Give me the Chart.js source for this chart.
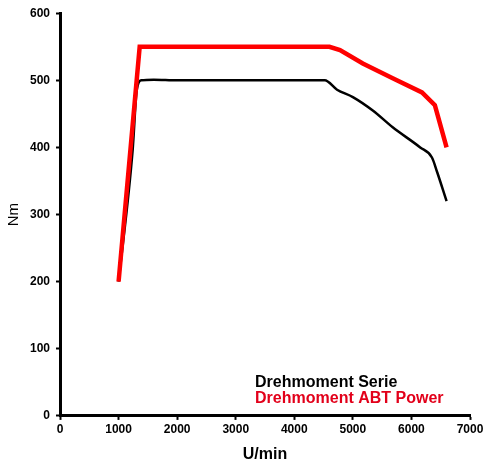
<!DOCTYPE html>
<html><head><meta charset="utf-8">
<script src="https://cdn.jsdelivr.net/npm/chart.js@4"></script>
<style>html,body{margin:0;padding:0;background:#fff}#w{width:483px;height:466px}</style>
</head><body><div id="w"><canvas id="c"></canvas></div>
<script>
const serieRpm = [1000, 1240, 1310, 1390, 1600, 2000, 3000, 4000, 4520, 4730, 5000, 5340, 5680, 6150, 6350, 6440, 6600];
const serieNm  = [200, 396, 485, 500, 501, 500, 500, 500, 500, 486, 475, 455, 430, 400, 385, 363, 320];
const abtRpm = [1000, 1360, 2000, 3000, 4000, 4600, 4780, 5170, 5680, 6180, 6400, 6600];
const abtNm  = [200, 550, 550, 550, 550, 550, 545, 525, 503, 482, 463, 400];
const xTicks = [0, 1000, 2000, 3000, 4000, 5000, 6000, 7000];
const yTicks = [0, 100, 200, 300, 400, 500, 600];
const legendLabels = ['Drehmoment Serie', 'Drehmoment ABT Power'];

const toPts = (xs, ys) => xs.map((x, i) => ({x, y: ys[i]}));
const FAM = 'Liberation Sans, Arial, sans-serif';
const font = {family: FAM, size: 12, weight: 'bold'};

const legendPlugin = {
  id: 'txtLegend',
  afterDraw(chart) {
    const {ctx, scales} = chart;
    ctx.save();
    ctx.font = 'bold 16px ' + FAM;
    ctx.textBaseline = 'alphabetic';
    const x = scales.x.getPixelForValue(3330);
    ctx.fillStyle = '#000';
    ctx.fillText(legendLabels[0], x, 387);
    ctx.fillStyle = '#e2001a';
    ctx.fillText(legendLabels[1], x, 403);
    ctx.restore();
  }
};

new Chart(document.getElementById('c'), {
  type: 'scatter',
  data: {
    datasets: [
      {label: legendLabels[0], data: toPts(serieRpm, serieNm), showLine: true, borderColor: '#000', borderWidth: 2.5, pointRadius: 0, cubicInterpolationMode: 'monotone', order: 2},
      {label: legendLabels[1], data: toPts(abtRpm, abtNm), showLine: true, borderColor: '#ff0000', borderWidth: 4.5, pointRadius: 0, tension: 0, order: 1}
    ]
  },
  options: {
    responsive: true, maintainAspectRatio: false, animation: false,
    layout: {padding: {top: 7, right: 0, left: 5, bottom: 1.5}},
    plugins: {legend: {display: false}, tooltip: {enabled: false}},
    scales: {
      x: {
        type: 'linear', min: 0, max: 7000,
        afterBuildTicks: s => { s.ticks = xTicks.map(v => ({value: v})); },
        afterFit: s => { s.paddingRight = 13; },
        grid: {display: true, drawOnChartArea: false, drawTicks: true, tickLength: 4, tickWidth: 2, color: '#000'},
        border: {display: true, color: '#000', width: 3},
        ticks: {color: '#000', font, padding: 3, maxRotation: 0, callback: v => String(v)},
        title: {display: true, text: 'U/min', color: '#000', font: {family: FAM, size: 16, weight: 'bold'}, padding: {top: 5, bottom: 0}}
      },
      y: {
        min: 0, max: 600,
        afterBuildTicks: s => { s.ticks = yTicks.map(v => ({value: v})); },
        grid: {display: true, drawOnChartArea: false, drawTicks: true, tickLength: 4, tickWidth: 2, color: '#000'},
        border: {display: true, color: '#000', width: 3},
        ticks: {color: '#000', font, padding: 6, callback: v => String(v)},
        title: {display: true, text: 'Nm', color: '#000', font: {family: FAM, size: 15}, padding: {top: 0, bottom: 1}}
      }
    }
  },
  plugins: [legendPlugin]
});
</script></body></html>
